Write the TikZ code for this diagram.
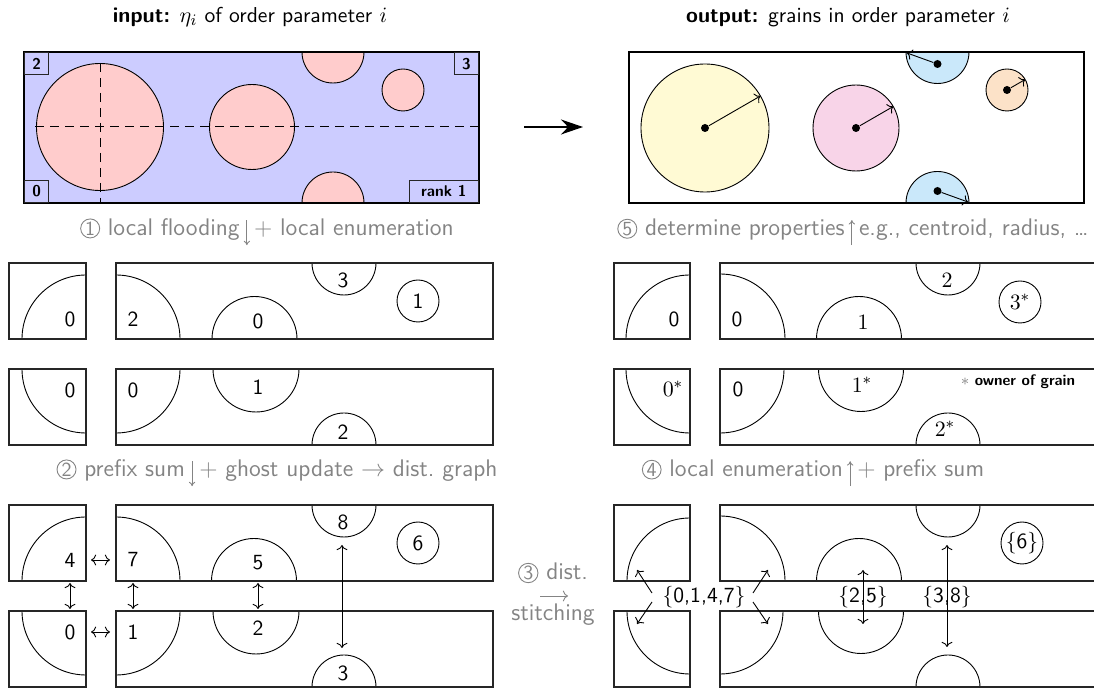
\documentclass[tikz,border=0pt]{standalone}
\usepackage{fontspec}
\usetikzlibrary{arrows.meta,calc}
\definecolor{inblue}{RGB}{204,204,255}
\definecolor{inpink}{RGB}{255,204,204}
\definecolor{gyellow}{RGB}{255,250,212}
\definecolor{gpink}{RGB}{248,212,232}
\definecolor{gblue}{RGB}{202,232,250}
\definecolor{gorange}{RGB}{252,226,200}
\definecolor{stepgray}{RGB}{132,132,132}
\newcommand\circnum[1]{\tikz[baseline=(cn.base)]\node[draw=stepgray,circle,inner sep=0.4pt,line width=0.45pt,text=stepgray,font=\fontsize{10}{10}\sffamily,anchor=center,minimum size=0pt](cn){#1};}
\newcommand\dnarr{\tikz[baseline=0pt]\draw[-{To[length=2.2pt,width=3.2pt]},stepgray,line width=0.45pt](0pt,7.5pt)--(0pt,-5pt);}
\newcommand\uparr{\tikz[baseline=0pt]\draw[-{To[length=2.2pt,width=3.2pt]},stepgray,line width=0.45pt](0pt,-5pt)--(0pt,7.5pt);}
\newcommand\gpanel[5]{\begin{scope}\clip (#1,#2) rectangle (#3,#4); #5 \end{scope}\draw[box] (#1,#2) rectangle (#3,#4);}
\tikzset{
  box/.style={draw=black!85,line width=0.7pt},
  grain/.style={draw=black,line width=0.45pt},
  num/.style={font=\fontsize{10.8}{12}\sffamily,inner sep=0pt},
  snum/.style={font=\fontsize{11}{12}\rmfamily,inner sep=0pt},
  grainnode/.style={draw,circle,minimum size=21pt,line width=0.45pt},
  steplabel/.style={font=\fontsize{12}{14}\sffamily,text=stepgray,inner sep=0pt},
  ttl/.style={font=\fontsize{10.8}{13}\sffamily,inner sep=0pt},
  corner/.style={draw=black!85,fill=inblue,line width=0.7pt,font=\fontsize{7.8}{8}\sffamily\bfseries,inner sep=0pt,minimum height=11pt},
  dot/.style={circle,fill=black,inner sep=0pt,minimum size=4pt},
  link/.style={<->,line width=0.45pt},
  ray/.style={->,line width=0.45pt},
}
\begin{document}
\begin{tikzpicture}[x=0.5pt,y=0.5pt,>=To]
\useasboundingbox (0,0) rectangle (1094,-689);

% titles
\node[ttl] (tin) at (250,-17) {\textbf{input:} $\eta_i$ of order parameter $i$};
\node[ttl] (tout) at (848,-17) {\textbf{output:} grains in order parameter $i$};

% input panel
\fill[inblue] (24,-52) rectangle (479,-203);
\begin{scope}
  \clip (24,-52) rectangle (479,-203);
  \filldraw[grain,fill=inpink] (100,-127) circle (63.5) (252,-127) circle (42.5)
     (333,-52) circle (31) (333,-203) circle (31) (403,-90) circle (21);
\end{scope}
\draw[line width=0.5pt,dash pattern=on 4.7pt off 2.8pt] (35,-127) -- (479,-127);
\draw[line width=0.5pt,dash pattern=on 4.7pt off 2.8pt] (100,-63) -- (100,-203);
\draw[line width=0.9pt] (24,-52) rectangle (479,-203);
\node[corner,anchor=north west,minimum width=12pt] (k2) at (24,-52) {2};
\node[corner,anchor=north east,minimum width=12pt] (k3) at (479,-52) {3};
\node[corner,anchor=south west,minimum width=12pt] (k0) at (24,-203) {0};
\node[corner,anchor=south east,minimum width=34.5pt] (k1) at (479,-203) {rank 1};

% big arrow
\coordinate (ba1) at (524,-127);
\coordinate (ba2) at (583,-127);
\draw[line width=0.7pt,-{Stealth[length=11pt,width=7.5pt]}] (ba1) -- (ba2);

% output panel
\begin{scope}
  \clip (629,-52) rectangle (1084,-203);
  \filldraw[grain,fill=gyellow] (705,-128) circle (64);
  \filldraw[grain,fill=gpink] (856,-128) circle (43);
  \filldraw[grain,fill=gblue] (937.5,-52) circle (31.5) (937.5,-203) circle (31.5);
  \filldraw[grain,fill=gorange] (1007,-90) circle (21);
\end{scope}
\draw[line width=0.7pt] (629,-52) rectangle (1084,-203);
\node[dot] (c1) at (705,-128) {};
\node[dot] (c2) at (856,-128) {};
\node[dot] (c3) at (937.5,-64) {};
\node[dot] (c4) at (937.5,-191) {};
\node[dot] (c5) at (1007,-90) {};
\coordinate (r1) at ($(705,-128)+(30:64)$);
\coordinate (r2) at ($(856,-128)+(30:43)$);
\coordinate (r3) at (907,-53);
\coordinate (r4) at (968,-202);
\coordinate (r5) at ($(1007,-90)+(30:21)$);
\draw[ray] (c1) -- (r1);
\draw[ray] (c2) -- (r2);
\draw[ray] (c3) -- (r3);
\draw[ray] (c4) -- (r4);
\draw[ray] (c5) -- (r5);

% step labels
\node[steplabel] (st1) at (267,-232) {\circnum{1} local flooding\,\dnarr\,+ local enumeration};
\node[steplabel] (st2) at (277,-473) {\circnum{2} prefix sum\,\dnarr\,+ ghost update $\to$ dist.\ graph};
\node[steplabel] (st5) at (853,-232) {\circnum{5} determine properties\,\uparr\,e.g., centroid, radius, \ldots};
\node[steplabel] (st4) at (813,-473) {\circnum{4} local enumeration\,\uparr\,+ prefix sum};
\node[steplabel] (st3a) at (553,-573) {\circnum{3} dist.};
\node[steplabel] (st3b) at (553,-615) {stitching};
\coordinate (s3l) at (540,-596);
\coordinate (s3r) at (568,-596);
\draw[->,stepgray,line width=0.45pt] (s3l) -- (s3r);

% ---- step 1 result (left middle)
\gpanel{9}{-263}{86}{-339}{\draw[grain] (86,-339) circle (64);}
\gpanel{116}{-263}{493}{-339}{\draw[grain] (116,-339) circle (64) (254.5,-339) circle (42.5) (344,-263) circle (32);}
\node[num] (a1) at (70,-319) {0};
\node[num] (a2) at (133,-319) {2};
\node[num] (a3) at (258,-321) {0};
\node[num] (a4) at (343,-280) {3};
\node[num,grainnode] (a5) at (418,-301) {1};
\gpanel{9}{-369}{86}{-445}{\draw[grain] (86,-369) circle (64);}
\gpanel{116}{-369}{493}{-445}{\draw[grain] (116,-369) circle (64) (256,-369) circle (43) (344,-445) circle (32);}
\node[num] (b1) at (70,-390) {0};
\node[num] (b2) at (133,-390) {0};
\node[num] (b3) at (258,-387) {1};
\node[num] (b4) at (343,-432) {2};

% ---- step 2 result (left bottom)
\gpanel{9}{-505}{86}{-581}{\draw[grain] (86,-581) circle (64);}
\gpanel{116}{-505}{493}{-581}{\draw[grain] (116,-581) circle (64) (254,-581) circle (42.5) (344,-505) circle (32);}
\node[num] (g4) at (70,-560) {4};
\node[num] (g7) at (133,-560) {7};
\node[num] (g5) at (258,-563) {5};
\node[num] (g8) at (343,-522) {8};
\node[num,grainnode] (g6) at (418,-543) {6};
\gpanel{9}{-611}{86}{-687}{\draw[grain] (86,-611) circle (64);}
\gpanel{116}{-611}{493}{-687}{\draw[grain] (116,-611) circle (64) (256,-611) circle (43) (344,-687) circle (32);}
\node[num] (g0) at (70,-632) {0};
\node[num] (g1) at (133,-632) {1};
\node[num] (g2) at (258,-628) {2};
\node[num] (g3) at (343,-673) {3};
\coordinate (h1a) at (91,-560);  \coordinate (h1b) at (110,-560);
\coordinate (h2a) at (91,-632);  \coordinate (h2b) at (110,-632);
\coordinate (v1a) at (70,-583);  \coordinate (v1b) at (70,-609);
\coordinate (v2a) at (133,-583); \coordinate (v2b) at (133,-609);
\coordinate (v3a) at (258,-583); \coordinate (v3b) at (258,-609);
\coordinate (v4a) at (342,-545); \coordinate (v4b) at (342,-648);
\draw[link] (h1a) -- (h1b);
\draw[link] (h2a) -- (h2b);
\draw[link] (v1a) -- (v1b);
\draw[link] (v2a) -- (v2b);
\draw[link] (v3a) -- (v3b);
\draw[link] (v4a) -- (v4b);

% ---- step 5 (right middle)
\gpanel{614}{-263}{690}{-339}{\draw[grain] (690,-339) circle (64);}
\gpanel{720}{-263}{1097}{-339}{\draw[grain] (720,-339) circle (65) (859,-339) circle (42.5) (948,-263) circle (32);}
\node[num] (e1) at (674,-319) {0};
\node[num] (e2) at (737,-319) {0};
\node[snum] (e3) at (863,-322) {$1$};
\node[snum] (e4) at (947,-280) {$2$};
\node[snum,grainnode] (e5) at (1020,-302) {$3^*$};
\gpanel{614}{-369}{690}{-445}{\draw[grain] (690,-369) circle (64);}
\gpanel{720}{-369}{1097}{-445}{\draw[grain] (720,-369) circle (64) (861,-369) circle (42.5) (948,-445) circle (32);}
\node[snum] (f1) at (673,-389) {$0^*$};
\node[num] (f2) at (738,-389) {0};
\node[snum] (f3) at (862,-385) {$1^*$};
\node[snum] (f4) at (945,-429) {$2^*$};
\node[font=\fontsize{7.6}{8}\sffamily\bfseries,inner sep=0pt] (own) at (1018,-382) {\textcolor{stepgray}{$\ast$} owner of grain};

% ---- step 3 result (right bottom)
\gpanel{614}{-505}{690}{-581}{\draw[grain] (690,-581) circle (63);}
\gpanel{720}{-505}{1097}{-581}{\draw[grain] (720,-581) circle (65) (859,-581) circle (42.5) (948,-505) circle (32);}
\node[num,grainnode] (m6) at (1022,-543) {\{6\}};
\gpanel{614}{-611}{690}{-687}{\draw[grain] (690,-611) circle (63);}
\gpanel{720}{-611}{1097}{-687}{\draw[grain] (720,-611) circle (63) (861,-611) circle (42.5) (948,-687) circle (32);}
\node[num] (m0147) at (704,-597) {\{0,1,4,7\}};
\node[num] (m25) at (863,-597) {\{2,5\}};
\node[num] (m38) at (947,-597) {\{3,8\}};
\coordinate (q1) at (652,-593); \coordinate (q1t) at (637,-570);
\coordinate (q2) at (652,-602); \coordinate (q2t) at (637,-624);
\coordinate (q3) at (753,-593); \coordinate (q3t) at (768,-570);
\coordinate (q4) at (753,-602); \coordinate (q4t) at (768,-624);
\draw[ray] (q1) -- (q1t);
\draw[ray] (q2) -- (q2t);
\draw[ray] (q3) -- (q3t);
\draw[ray] (q4) -- (q4t);
\coordinate (u25) at (863,-570); \coordinate (d25) at (863,-624);
\coordinate (u38) at (947,-545); \coordinate (d38) at (947,-647);
\draw[ray] (m25.center) -- (u25);
\draw[ray] (m25.center) -- (d25);
\draw[ray] (m38.center) -- (u38);
\draw[ray] (m38.center) -- (d38);
\end{tikzpicture}
\end{document}
